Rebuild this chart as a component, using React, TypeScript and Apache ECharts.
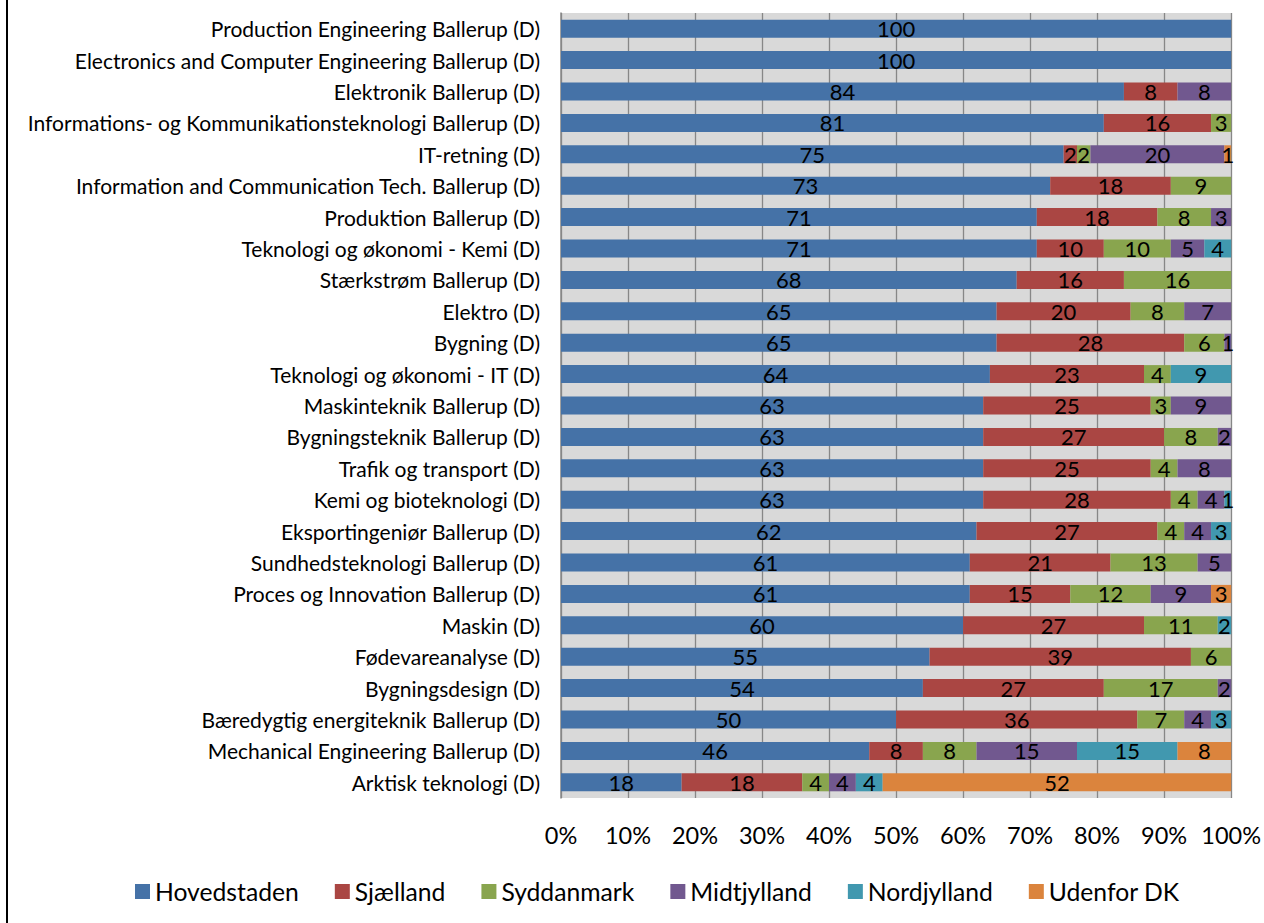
import React, { useEffect, useRef } from "react";
import * as echarts from "echarts";

const categories = [
  "Production Engineering Ballerup (D)",
  "Electronics and Computer Engineering Ballerup (D)",
  "Elektronik Ballerup (D)",
  "Informations- og Kommunikationsteknologi Ballerup (D)",
  "IT-retning (D)",
  "Information and Communication Tech. Ballerup (D)",
  "Produktion Ballerup (D)",
  "Teknologi og økonomi - Kemi (D)",
  "Stærkstrøm Ballerup (D)",
  "Elektro (D)",
  "Bygning (D)",
  "Teknologi og økonomi - IT (D)",
  "Maskinteknik Ballerup (D)",
  "Bygningsteknik Ballerup (D)",
  "Trafik og transport (D)",
  "Kemi og bioteknologi (D)",
  "Eksportingeniør Ballerup (D)",
  "Sundhedsteknologi Ballerup (D)",
  "Proces og Innovation Ballerup (D)",
  "Maskin (D)",
  "Fødevareanalyse (D)",
  "Bygningsdesign (D)",
  "Bæredygtig energiteknik Ballerup (D)",
  "Mechanical Engineering Ballerup (D)",
  "Arktisk teknologi (D)",
];

const hovedstaden = [100, 100, 84, 81, 75, 73, 71, 71, 68, 65, 65, 64, 63, 63, 63, 63, 62, 61, 61, 60, 55, 54, 50, 46, 18];
const sjaelland = [0, 0, 8, 16, 2, 18, 18, 10, 16, 20, 28, 23, 25, 27, 25, 28, 27, 21, 15, 27, 39, 27, 36, 8, 18];
const syddanmark = [0, 0, 0, 3, 2, 9, 8, 10, 16, 8, 6, 4, 3, 8, 4, 4, 4, 13, 12, 11, 6, 17, 7, 8, 4];
const midtjylland = [0, 0, 8, 0, 20, 0, 3, 5, 0, 7, 1, 0, 9, 2, 8, 4, 4, 5, 9, 0, 0, 2, 4, 15, 4];
const nordjylland = [0, 0, 0, 0, 0, 0, 0, 4, 0, 0, 0, 9, 0, 0, 0, 1, 3, 0, 0, 2, 0, 0, 3, 15, 4];
const udenforDK = [0, 0, 0, 0, 1, 0, 0, 0, 0, 0, 0, 0, 0, 0, 0, 0, 0, 0, 3, 0, 0, 0, 0, 8, 52];

const seriesNames = ["Hovedstaden", "Sjælland", "Syddanmark", "Midtjylland", "Nordjylland", "Udenfor DK"];
const seriesData = [hovedstaden, sjaelland, syddanmark, midtjylland, nordjylland, udenforDK];
const colors = ["#4572A7", "#AA4643", "#89A54E", "#71588F", "#4198AF", "#DB843D"];

const FONT = "Lato, 'Open Sans', sans-serif";

export default function App() {
  const ref = useRef<HTMLDivElement>(null);
  useEffect(() => {
    if (!ref.current) return;
    const chart = echarts.init(ref.current, undefined, { renderer: "svg" });
    chart.setOption({
      animation: false,
      color: colors,
      textStyle: { fontFamily: FONT, color: "#000" },
      grid: {
        left: 561,
        right: 31,
        top: 13,
        bottom: 125,
        show: true,
        backgroundColor: "#d9d9d9",
        borderWidth: 0,
      },
      legend: {
        left: 130,
        top: 874,
        itemWidth: 15,
        itemHeight: 15,
        itemGap: 36,
        icon: "rect",
        textStyle: { fontFamily: FONT, fontSize: 24.7, color: "#000", padding: [0, 0, 0, 0] },
        data: seriesNames,
      },
      xAxis: {
        type: "value",
        min: 0,
        max: 100,
        interval: 10,
        axisLine: { show: false },
        axisTick: { show: false },
        splitLine: { show: true, lineStyle: { color: "#878787", width: 1.3 } },
        axisLabel: {
          formatter: "{value}%",
          fontFamily: FONT,
          fontSize: 23.5,
          color: "#000",
          margin: 25,
        },
      },
      yAxis: {
        type: "category",
        inverse: true,
        data: categories,
        axisLine: { show: true, lineStyle: { color: "#878787", width: 1.5 } },
        axisTick: { show: false },
        axisLabel: {
          fontFamily: FONT,
          fontSize: 21,
          color: "#000",
          margin: 21,
        },
      },
      series: seriesNames.map((name, i) => ({
        name,
        type: "bar",
        stack: "total",
        barWidth: 18,
        data: seriesData[i],
        itemStyle: { color: colors[i] },
        label: {
          show: true,
          position: "inside",
          fontFamily: FONT,
          fontSize: 22,
          color: "#000",
          formatter: (p: any) => (p.value ? String(p.value) : ""),
        },
      })),
      graphic: [
        {
          type: "rect",
          shape: { x: 6, y: 0, width: 2, height: 923 },
          style: { fill: "#000" },
        },
      ],
    });
    return () => chart.dispose();
  }, []);
  return (
    <div
      ref={ref}
      style={{ position: "absolute", left: 0, top: 0, width: 1264, height: 923, background: "#fff" }}
    />
  );
}
